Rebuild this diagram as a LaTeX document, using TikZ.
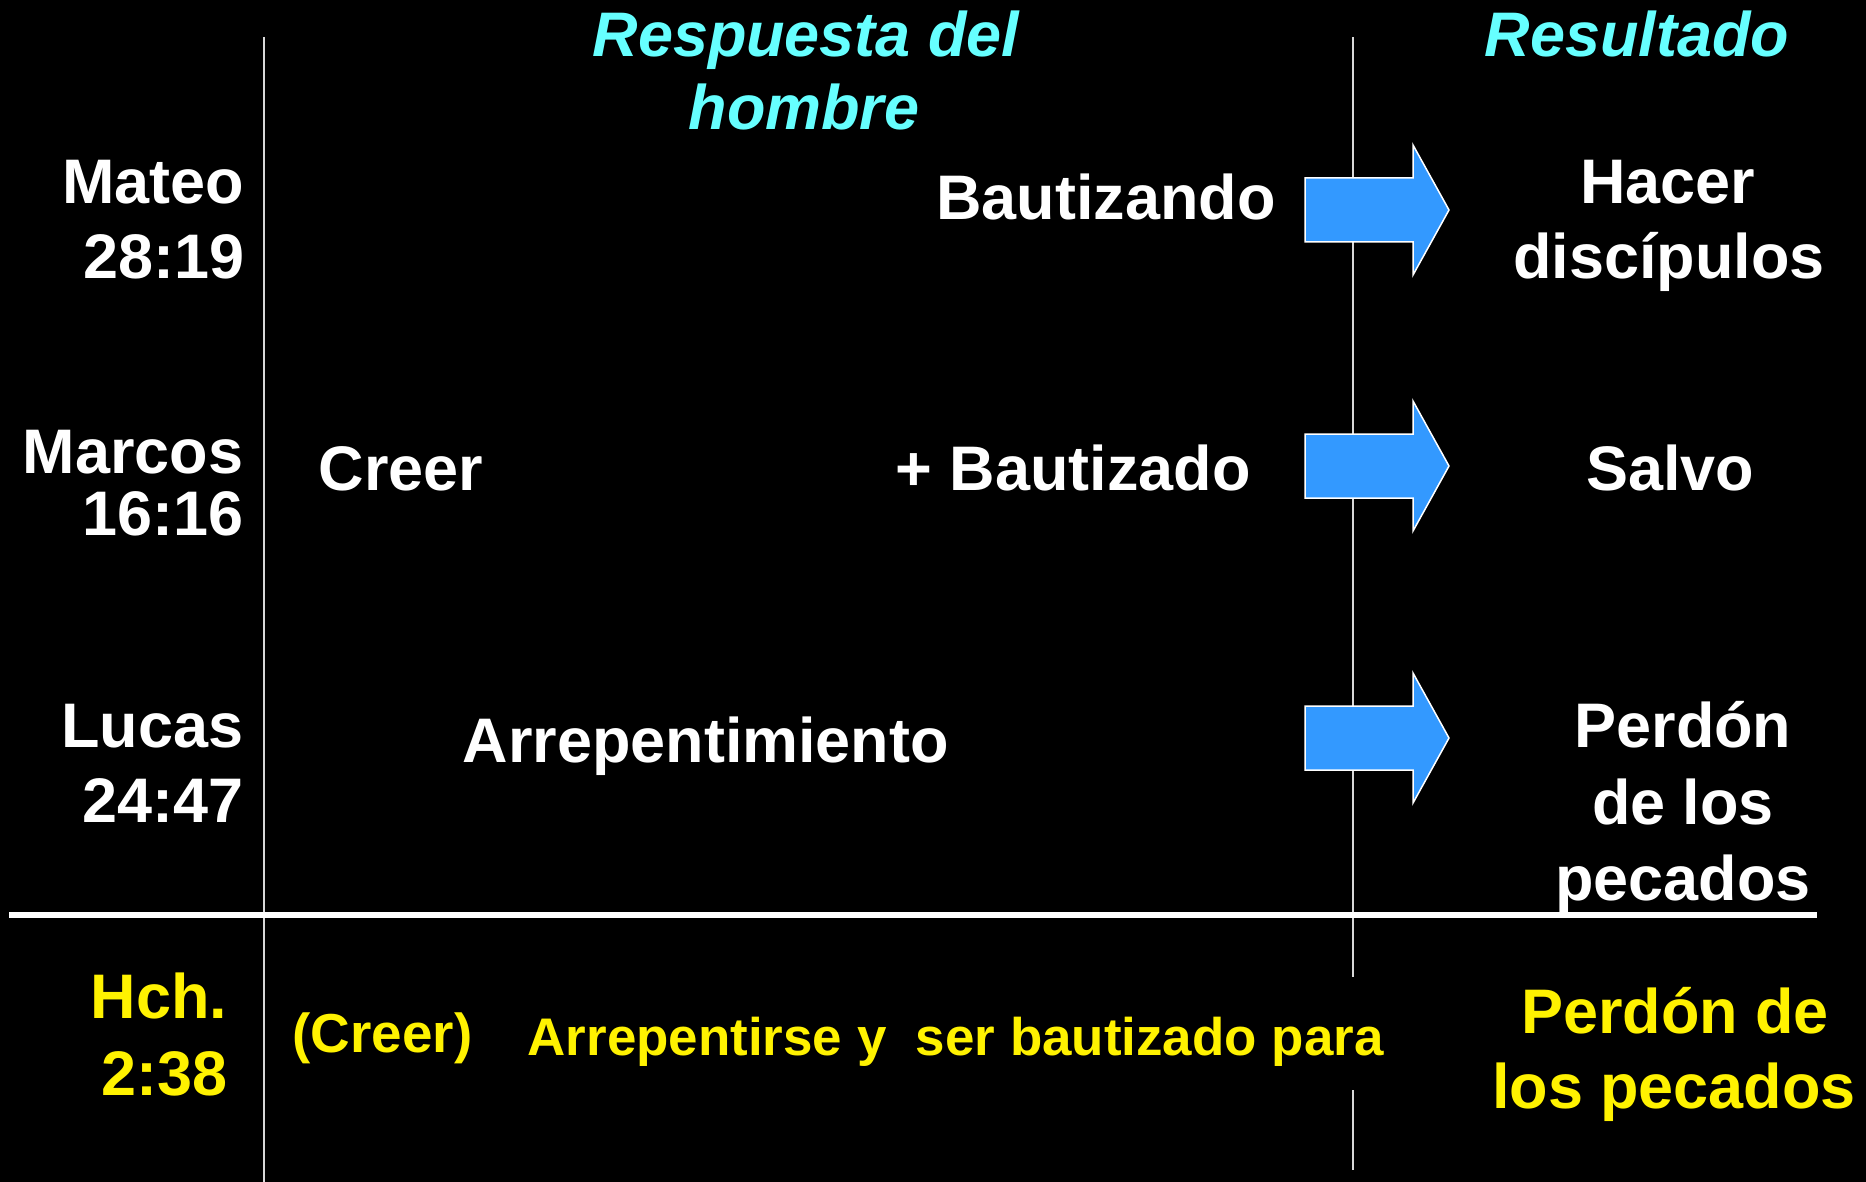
\documentclass[tikz,border=0pt]{standalone}
\usepackage{fontspec}
\setmainfont{Liberation Sans}
\usepackage{tikz}
\definecolor{headcyan}{HTML}{66FFFF}
\definecolor{arrowblue}{HTML}{3399FF}

\begin{document}
\begin{tikzpicture}[x=0.01cm,y=-0.01cm]
\tikzstyle{big}=[inner sep=0pt,text=white,font=\fontsize{17.9}{21}\selectfont\bfseries]
\tikzstyle{head}=[big,text=headcyan,font=\fontsize{17.9}{21}\selectfont\bfseries\itshape]
\tikzstyle{small}=[big,text=yellow,font=\fontsize{15.6}{18}\selectfont\bfseries]
\tikzstyle{rule}=[draw=white!85!black,line width=0.02cm]
\tikzstyle{blockarrow}=[fill=arrowblue,draw=white,line width=0.015cm]
\fill[black] (0,0) rectangle (1866,1182);
\useasboundingbox (0,0) rectangle (1866,1182);
% frame lines
\coordinate (lt) at (264,37);
\coordinate (lb) at (264,1182);
\coordinate (rt) at (1353,37);
\draw[rule] (lt) -- (lb);
\draw[rule] (rt) -- (1353,977);
\draw[rule] (1353,1090) -- (1353,1170);
\draw[white,line width=0.055cm] (9,915) -- (1817,915);
% arrows
\foreach \y in {210,466,738}
  \draw[blockarrow] (1305,\y) ++(0,-32) -- ++(108,0) -- ++(0,-33) -- ++(36,65)
    -- ++(-36,65) -- ++(0,-33) -- ++(-108,0) -- cycle;
% headings
\node[head, anchor=base] (resp) at (806,57) {Respuesta del};
\node[head, anchor=base] (hombre) at (804,130) {hombre};
\node[head, anchor=base] (result) at (1637,57) {Resultado};
% references
\node[big, anchor=base east] (mateo) at (245,204) {Mateo};
\node[big, anchor=base east] (mateo2) at (245,279) {28:19};
\node[big, anchor=base east] (marcos) at (244,473) {Marcos};
\node[big, anchor=base east] (marcos2) at (244,535) {16:16};
\node[big, anchor=base east] (lucas) at (244,747) {Lucas};
\node[big, anchor=base east] (lucas2) at (244,822) {24:47};
\node[big, anchor=base east, text=yellow] (hch) at (228,1018) {Hch.};
\node[big, anchor=base east, text=yellow] (hch2) at (228,1095) {2:38};
% response
\node[big, anchor=base] (bautizando) at (1106,219) {Bautizando};
\node[big, anchor=base west] (creer) at (318,490) {Creer};
\node[big, anchor=base west] (bautizado) at (895,490) {+ Bautizado};
\node[big, anchor=base west] (arrep) at (462,762) {Arrepentimiento};
\node[small, anchor=base west] (creer2) at (292,1052) {(Creer)};
\node[small, anchor=base west, font=\fontsize{15.05}{18}\selectfont\bfseries] (arrep2) at (527,1055) {Arrepentirse y~ ser bautizado para};
% results
\node[big, anchor=base] (hacer) at (1668,204) {Hacer};
\node[big, anchor=base] (disc) at (1669,279) {discípulos};
\node[big, anchor=base] (salvo) at (1670,490) {Salvo};
\node[big, anchor=base] (perdon) at (1683,747) {Perdón};
\node[big, anchor=base] (delos) at (1683,824) {de los};
\node[big, anchor=base] (pecados) at (1683,900) {pecados};
\node[big, anchor=base, text=yellow] (perdon2) at (1675,1033) {Perdón de};
\node[big, anchor=base, text=yellow] (pecados2) at (1674,1108) {los pecados};
\end{tikzpicture}
\end{document}
